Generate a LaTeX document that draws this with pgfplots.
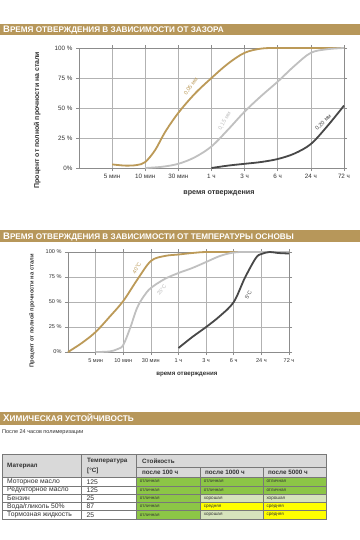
\documentclass[border=0pt]{standalone}
\usepackage{fontspec}
\setmainfont{Liberation Sans}
\usepackage{pgfplots}
\pgfplotsset{compat=1.18}
\definecolor{gold}{RGB}{188,154,88}
\definecolor{barc}{RGB}{183,151,90}
\definecolor{lgray}{RGB}{192,192,192}
\definecolor{dgray}{RGB}{72,72,72}
\definecolor{gridc}{RGB}{178,178,178}
\definecolor{axc}{RGB}{140,140,140}
\definecolor{hdr}{RGB}{217,217,217}
\definecolor{okg}{RGB}{140,198,70}
\definecolor{goodc}{RGB}{214,227,188}
\definecolor{ylw}{RGB}{255,255,0}
\definecolor{txt}{RGB}{50,50,50}
\definecolor{tbl}{RGB}{120,120,120}

\pgfplotsset{
  mychart/.style={
    scale only axis, xmin=0, xmax=8, ymin=0, ymax=100,
    xtick={1,...,8}, ytick={0,25,50,75,100},
    xticklabels={5 мин,10 мин,30 мин,1 ч,3 ч,6 ч,24 ч,72 ч},
    yticklabels={0\%,25 \%,50 \%,75 \%,100 \%},
    grid=major, grid style={gridc, line width=0.6bp},
    axis line style={axc, line width=0.7bp},
    tick align=outside, major tick length=3bp,
    tick style={axc, line width=0.6bp},
    /pgf/number format/assume math mode=true,
    ticklabel style={text=txt},
    clip=false,
    every axis plot/.append style={line width=1.8bp, smooth, tension=0.55, mark=none},
  }
}

\newcommand\cellc[6]{%
  \fill[#5] (#1,#2) rectangle (#3,#4);
  \node[anchor=west, inner sep=0pt, text=txt, font=\fontsize{4.6}{5}\selectfont] at ({#1+3},{(#2+#4)/2}) {#6};}

\begin{document}
\begin{tikzpicture}
\path[use as bounding box, fill=white] (0,0) rectangle (360bp,-540bp);

\begin{scope}[x=1bp,y=-1bp]
% title bars
\fill[barc] (0,23.5) rectangle (360,34.5);
\node[anchor=base west, text=white, inner sep=0pt, font=\bfseries] at (3,32.3)
  {{\fontsize{9.5}{9}\selectfont В}{\fontsize{8.2}{8}\selectfont РЕМЯ ОТВЕРЖДЕНИЯ В ЗАВИСИМОСТИ ОТ ЗАЗОРА}};
\fill[barc] (0,230) rectangle (360,242);
\node[anchor=base west, text=white, inner sep=0pt, font=\bfseries] at (3,239.4)
  {{\fontsize{9.5}{9}\selectfont В}{\fontsize{8.2}{8}\selectfont РЕМЯ ОТВЕРЖДЕНИЯ В ЗАВИСИМОСТИ ОТ ТЕМПЕРАТУРЫ ОСНОВЫ}};
\fill[barc] (0,412) rectangle (360,425);
\node[anchor=base west, text=white, inner sep=0pt, font=\bfseries] at (3,421.8)
  {{\fontsize{9.8}{9}\selectfont Х}{\fontsize{8.3}{8}\selectfont ИМИЧЕСКАЯ УСТОЙЧИВОСТЬ}};
\node[anchor=west, inner sep=0pt, text=txt, font=\fontsize{5.5}{6}\selectfont] at (2,432.5) {После 24 часов полимеризации};

% table
\fill[hdr] (2.7,454) rectangle (326,477.5);
\fill[white] (2.7,477.5) rectangle (136.7,519);
\cellc{136.7}{477.5}{200.7}{485.8}{okg}{отличная}
\cellc{200.7}{477.5}{263.3}{485.8}{okg}{отличная}
\cellc{263.3}{477.5}{326}{485.8}{okg}{отличная}
\cellc{136.7}{485.8}{200.7}{494.1}{okg}{отличная}
\cellc{200.7}{485.8}{263.3}{494.1}{okg}{отличная}
\cellc{263.3}{485.8}{326}{494.1}{okg}{отличная}
\cellc{136.7}{494.1}{200.7}{502.4}{okg}{отличная}
\cellc{200.7}{494.1}{263.3}{502.4}{goodc}{хорошая}
\cellc{263.3}{494.1}{326}{502.4}{goodc}{хорошая}
\cellc{136.7}{502.4}{200.7}{510.7}{okg}{отличная}
\cellc{200.7}{502.4}{263.3}{510.7}{ylw}{средняя}
\cellc{263.3}{502.4}{326}{510.7}{ylw}{средняя}
\cellc{136.7}{510.7}{200.7}{519}{okg}{отличная}
\cellc{200.7}{510.7}{263.3}{519}{goodc}{хорошая}
\cellc{263.3}{510.7}{326}{519}{ylw}{средняя}
\begin{scope}[draw=tbl, line width=0.6bp]
\draw (2.7,454) rectangle (326,519);
\draw (136.7,467.7) -- (326,467.7);
\foreach \yy in {477.5,485.8,494.1,502.4,510.7} \draw (2.7,\yy) -- (326,\yy);
\draw (81.7,454) -- (81.7,519);
\draw (136.7,454) -- (136.7,519);
\draw (200.7,467.7) -- (200.7,519);
\draw (263.3,467.7) -- (263.3,519);
\end{scope}
\begin{scope}[every node/.style={anchor=west, inner sep=0pt, text=txt}]
\node[font=\bfseries\fontsize{6.3}{7}\selectfont] at (7,466) {Материал};
\node[font=\bfseries\fontsize{6.3}{7}\selectfont] at (87,460.5) {Температура};
\node[font=\bfseries\fontsize{6.3}{7}\selectfont] at (87,470.5) {[°C]};
\node[font=\bfseries\fontsize{6.3}{7}\selectfont] at (142,461.5) {Стойкость};
\node[font=\bfseries\fontsize{6.3}{7}\selectfont] at (142,472.8) {после 100 ч};
\node[font=\bfseries\fontsize{6.3}{7}\selectfont] at (205,472.8) {после 1000 ч};
\node[font=\bfseries\fontsize{6.3}{7}\selectfont] at (268,472.8) {после 5000 ч};
\node[font=\fontsize{6.8}{7}\selectfont] at (7,481.7) {Моторное масло};
\node[font=\fontsize{6.8}{7}\selectfont] at (7,490) {Редукторное масло};
\node[font=\fontsize{6.8}{7}\selectfont] at (7,498.3) {Бензин};
\node[font=\fontsize{6.8}{7}\selectfont] at (7,506.6) {Вода/гликоль 50\%};
\node[font=\fontsize{6.8}{7}\selectfont] at (7,514.9) {Тормозная жидкость};
\node[font=\fontsize{6.8}{7}\selectfont] at (86.5,481.7) {125};
\node[font=\fontsize{6.8}{7}\selectfont] at (86.5,490) {125};
\node[font=\fontsize{6.8}{7}\selectfont] at (86.5,498.3) {25};
\node[font=\fontsize{6.8}{7}\selectfont] at (86.5,506.6) {87};
\node[font=\fontsize{6.8}{7}\selectfont] at (86.5,514.9) {25};
\end{scope}
\end{scope}

% chart 1
\begin{axis}[mychart, at={(79bp,-168bp)}, anchor=south west,
  width=265bp, height=120bp,
  tick label style={font=\fontsize{6.3}{7}\selectfont},
  xlabel={время отверждения},
  ylabel={Процент от полной прочности на стали},
  xlabel style={font=\bfseries\fontsize{7.2}{8}\selectfont, text=txt, at={(axis description cs:0.528,-0.208)}, anchor=center},
  ylabel style={font=\bfseries\fontsize{7}{8}\selectfont, text=txt, at={(axis description cs:-0.158,0.4)}, anchor=center, rotate=0},
]
\addplot[gold] coordinates {(1,3) (1.4,2) (1.75,2.5) (2,5) (2.3,15) (2.6,30) (3,46) (3.5,62) (4,75) (4.5,87) (5,96) (5.5,99.5) (6,100) (7,100) (8,100)};
\addplot[lgray] coordinates {(2,0) (2.5,1) (3,3.5) (3.5,9) (4,18) (4.5,32) (5,47) (5.5,60) (6,72) (6.5,85) (7,96) (7.5,99) (8,100)};
\addplot[dgray] coordinates {(4,0) (4.5,2) (5,3.5) (5.5,5) (6,7.5) (6.5,12) (7,20) (7.5,35) (8,52)};
\node[rotate=55, text=gold, font=\fontsize{5.6}{6}\selectfont] at (axis cs:3.38,68) {0,05 мм};
\node[rotate=60, text=lgray, font=\fontsize{5.6}{6}\selectfont] at (axis cs:4.40,39) {0,15 мм};
\node[rotate=45, text=dgray, font=\fontsize{5.6}{6}\selectfont] at (axis cs:7.38,38) {0,20 мм};
\end{axis}

% chart 2
\begin{axis}[mychart, at={(68bp,-352bp)}, anchor=south west,
  width=221bp, height=100bp,
  tick label style={font=\fontsize{5.6}{6}\selectfont},
  xlabel={время отверждения},
  ylabel={Процент от полной прочности на стали},
  xlabel style={font=\bfseries\fontsize{6.2}{7}\selectfont, text=txt, at={(axis description cs:0.538,-0.22)}, anchor=center},
  ylabel style={font=\bfseries\fontsize{5.8}{7}\selectfont, text=txt, at={(axis description cs:-0.163,0.41)}, anchor=center, rotate=0},
]
\addplot[gold] coordinates {(0,0) (0.5,9) (1,20) (1.5,35) (2,51) (2.5,72) (3,91) (3.5,96) (4,97.5) (4.5,99) (5,100) (6,100) (7,100) (8,100)};
\addplot[lgray] coordinates {(1,0) (1.5,0.5) (1.8,3) (2,7) (2.25,24) (2.5,44) (2.75,56) (3,64) (3.5,73) (4,79) (4.5,84) (5,90) (5.5,96) (6,99.5) (6.5,100) (8,100)};
\addplot[dgray] coordinates {(4,4) (4.5,15) (5,25) (5.5,36) (6,50) (6.4,74) (6.8,94) (7,98) (7.3,100) (7.6,99) (8,98.5)};
\node[rotate=60, text=gold, font=\fontsize{5.4}{6}\selectfont] at (axis cs:2.49,84) {40°C};
\node[rotate=55, text=lgray, font=\fontsize{5.4}{6}\selectfont] at (axis cs:3.39,62) {25°C};
\node[rotate=65, text=dgray, font=\fontsize{5.4}{6}\selectfont] at (axis cs:6.53,57) {5°C};
\end{axis}
\end{tikzpicture}
\end{document}
